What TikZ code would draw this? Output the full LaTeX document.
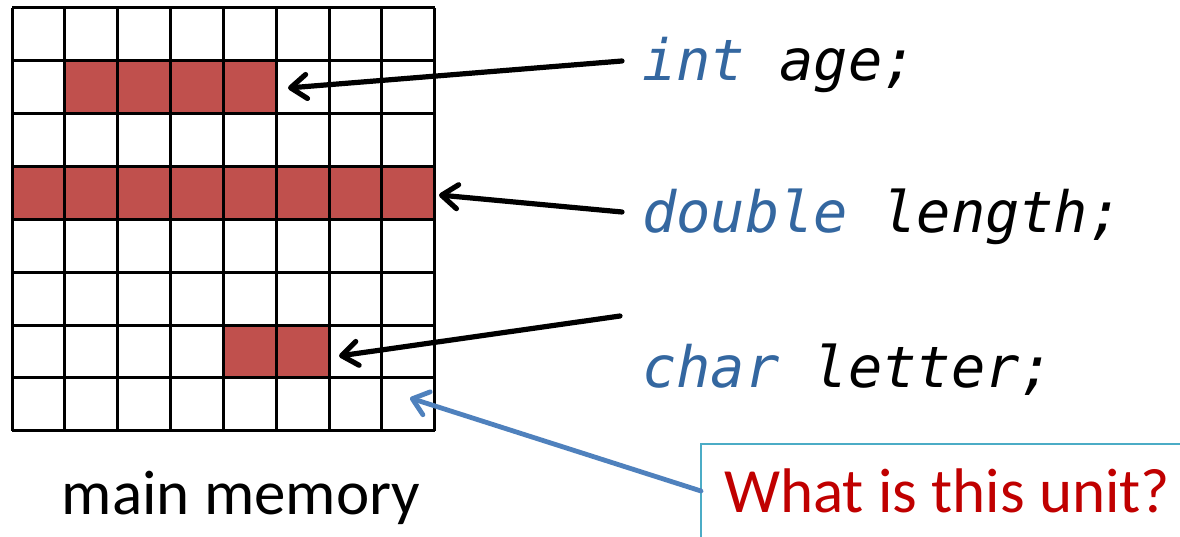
\documentclass[tikz,border=0pt]{standalone}
\usepackage{fontspec}
\setmainfont{Carlito}
\newfontfamily\codefont{DejaVu Sans Mono}[ItalicFont={DejaVu Sans Mono Oblique}]
\usetikzlibrary{arrows.meta}
\definecolor{cellred}{HTML}{C0504D}
\definecolor{codeblue}{RGB}{52,103,160}
\definecolor{arrowblue}{HTML}{4F81BD}
\definecolor{boxcyan}{HTML}{4BACC6}
\definecolor{qred}{HTML}{C00000}
\tikzset{
  gridline/.style={line width=3pt, black},
  filled/.style={fill=cellred},
  codetext/.style={anchor=base west, inner sep=0pt, font=\codefont\itshape\fontsize{57}{62}\selectfont},
  pointer/.style={line width=5.2pt, black, line cap=round, line join=round, -{Straight Barb[length=16pt,width=24pt,line cap=round,line join=round]}},
  bluepointer/.style={line width=4.8pt, arrowblue, line cap=round, line join=round, -{Straight Barb[length=15pt,width=24pt,line cap=round,line join=round]}},
}
\begin{document}
\begin{tikzpicture}[x=1pt,y=-1pt]
\useasboundingbox (0,0) rectangle (1180,537);
\clip (0,0) rectangle (1180,537);
\fill[white] (0,0) rectangle (1180,537);
% grid geometry
\def\gx{12}\def\gy{8}\def\cs{52.85}
% red cells
\foreach \c in {1,...,4} \fill[filled] (\gx+\c*\cs,\gy+1*\cs) rectangle (\gx+\c*\cs+\cs,\gy+2*\cs);
\foreach \c in {0,...,7} \fill[filled] (\gx+\c*\cs,\gy+3*\cs) rectangle (\gx+\c*\cs+\cs,\gy+4*\cs);
\foreach \c in {4,5} \fill[filled] (\gx+\c*\cs,\gy+6*\cs) rectangle (\gx+\c*\cs+\cs,\gy+7*\cs);
% grid lines
\foreach \i in {0,...,8} {
  \draw[gridline] (\gx+\i*\cs,\gy) -- (\gx+\i*\cs,\gy+8*\cs);
  \draw[gridline] (\gx,\gy+\i*\cs) -- (\gx+8*\cs,\gy+\i*\cs);
}
% labels
\node[codetext] (age) at (642,81) {\textcolor{codeblue}{int} age;};
\node[codetext] (len) at (642,233) {\textcolor{codeblue}{double} length;};
\node[codetext] (let) at (642,387) {\textcolor{codeblue}{char} letter;};
\node[anchor=base, inner sep=0pt, font=\fontsize{63}{70}\selectfont] (mm) at (241,514) {main memory};
\node[draw=boxcyan, line width=1.5pt, anchor=north west, minimum width=520pt, minimum height=120pt, inner sep=0pt] (qbox) at (700,443) {};
\node[anchor=base west, inner sep=0pt, text=qred, font=\fontsize{63}{70}\selectfont] (q) at (724,512) {What is this unit?};
% connector end points
\coordinate (s1) at (622,61);
\coordinate (t1) at (288,88);
\coordinate (s2) at (622,212);
\coordinate (t2) at (439,195);
\coordinate (s3) at (620,316);
\coordinate (t3) at (339,356);
\coordinate (s4) at (701,491);
\coordinate (t4) at (410,398);
\draw[pointer] (s1) -- (t1);
\draw[pointer] (s2) -- (t2);
\draw[pointer] (s3) -- (t3);
\draw[bluepointer] (s4) -- (t4);
\end{tikzpicture}
\end{document}
